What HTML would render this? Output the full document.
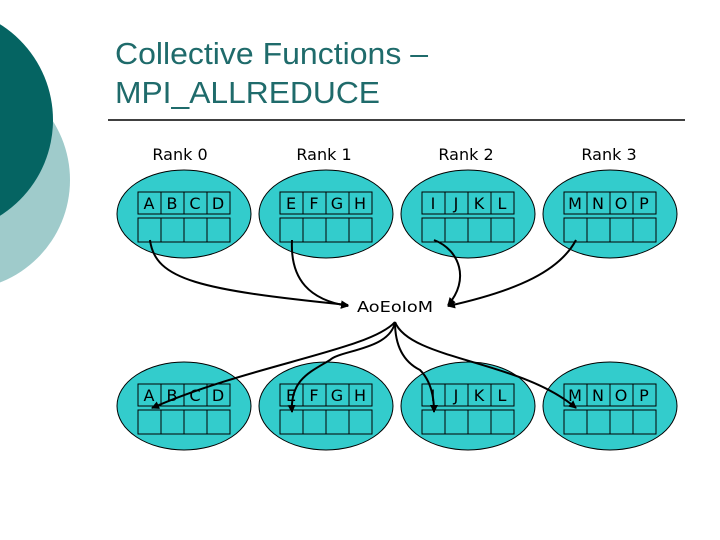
<!DOCTYPE html>
<html><head><style>
body{margin:0;width:720px;height:540px;overflow:hidden;background:#fff;font-family:"Liberation Sans",sans-serif;}
</style></head><body>
<svg width="720" height="540" xmlns="http://www.w3.org/2000/svg" style="position:absolute;left:0;top:0">
<defs><marker id="ah" markerWidth="8" markerHeight="8" refX="7" refY="4" orient="auto" markerUnits="userSpaceOnUse"><path d="M0,0 L8,4 L0,8 Z" fill="#000"/></marker></defs>
<circle cx="-40" cy="180" r="110" fill="#9fcbcb"/>
<circle cx="-60" cy="120" r="113" fill="#056462"/>
<text x="115" y="64" font-size="31" fill="#1f6b6b" textLength="313" lengthAdjust="spacingAndGlyphs">Collective Functions –</text>
<text x="115" y="103" font-size="31" fill="#1f6b6b" textLength="265" lengthAdjust="spacingAndGlyphs">MPI_ALLREDUCE</text>
<line x1="108" y1="120" x2="685" y2="120" stroke="#000" stroke-width="1.5"/>
<g font-size="16" text-anchor="middle" fill="#000" font-family="DejaVu Sans, sans-serif">
<text x="180" y="160">Rank 0</text><text x="324" y="160">Rank 1</text><text x="466" y="160">Rank 2</text><text x="609" y="160">Rank 3</text>
</g>
<g stroke="#000" stroke-width="1">
<ellipse cx="184" cy="214" rx="67" ry="44" fill="#33cccc"/>
<ellipse cx="326" cy="214" rx="67" ry="44" fill="#33cccc"/>
<ellipse cx="468" cy="214" rx="67" ry="44" fill="#33cccc"/>
<ellipse cx="610" cy="214" rx="67" ry="44" fill="#33cccc"/>
<ellipse cx="184" cy="406" rx="67" ry="44" fill="#33cccc"/>
<ellipse cx="326" cy="406" rx="67" ry="44" fill="#33cccc"/>
<ellipse cx="468" cy="406" rx="67" ry="44" fill="#33cccc"/>
<ellipse cx="610" cy="406" rx="67" ry="44" fill="#33cccc"/>
</g>
<g stroke="#000" fill="none" stroke-width="1">
<path d="M138 192h92v22h-92zM161 192v22M184 192v22M207 192v22M138 218h92v24h-92zM161 218v24M184 218v24M207 218v24"/>
<path d="M280 192h92v22h-92zM303 192v22M326 192v22M349 192v22M280 218h92v24h-92zM303 218v24M326 218v24M349 218v24"/>
<path d="M422 192h92v22h-92zM445 192v22M468 192v22M491 192v22M422 218h92v24h-92zM445 218v24M468 218v24M491 218v24"/>
<path d="M564 192h92v22h-92zM587 192v22M610 192v22M633 192v22M564 218h92v24h-92zM587 218v24M610 218v24M633 218v24"/>
<path d="M138 384h92v22h-92zM161 384v22M184 384v22M207 384v22M138 410h92v24h-92zM161 410v24M184 410v24M207 410v24"/>
<path d="M280 384h92v22h-92zM303 384v22M326 384v22M349 384v22M280 410h92v24h-92zM303 410v24M326 410v24M349 410v24"/>
<path d="M422 384h92v22h-92zM445 384v22M468 384v22M491 384v22M422 410h92v24h-92zM445 410v24M468 410v24M491 410v24"/>
<path d="M564 384h92v22h-92zM587 384v22M610 384v22M633 384v22M564 410h92v24h-92zM587 410v24M610 410v24M633 410v24"/>
</g>
<g font-size="16" text-anchor="middle" fill="#000" font-family="DejaVu Sans, sans-serif">
<text x="149" y="209">A</text><text x="172" y="209">B</text><text x="195" y="209">C</text><text x="218" y="209">D</text>
<text x="291" y="209">E</text><text x="314" y="209">F</text><text x="337" y="209">G</text><text x="360" y="209">H</text>
<text x="433" y="209">I</text><text x="456" y="209">J</text><text x="479" y="209">K</text><text x="502" y="209">L</text>
<text x="575" y="209">M</text><text x="598" y="209">N</text><text x="621" y="209">O</text><text x="644" y="209">P</text>
<text x="149" y="401">A</text><text x="172" y="401">B</text><text x="195" y="401">C</text><text x="218" y="401">D</text>
<text x="291" y="401">E</text><text x="314" y="401">F</text><text x="337" y="401">G</text><text x="360" y="401">H</text>
<text x="433" y="401">I</text><text x="456" y="401">J</text><text x="479" y="401">K</text><text x="502" y="401">L</text>
<text x="575" y="401">M</text><text x="598" y="401">N</text><text x="621" y="401">O</text><text x="644" y="401">P</text>
<text x="395" y="312" font-size="15" textLength="76" lengthAdjust="spacingAndGlyphs">AoEoIoM</text>
</g>
<g stroke="#000" stroke-width="2" fill="none" marker-end="url(#ah)">
<path d="M150 240 C155 280 200 290 348 305"/>
<path d="M292 240 C290 280 310 300 348 306"/>
<path d="M434 240 C460 250 470 280 448 305"/>
<path d="M576 240 C560 270 520 290 448 306"/>
<path d="M395 322 C390 350 340 350 330 360 C310 372 290 380 292 412"/>
<path d="M395 322 C395 340 400 360 420 370 C430 380 434 395 434 412"/>
<path d="M395 322 C370 350 250 365 152 408"/>
<path d="M395 322 C410 360 520 360 576 408"/>
</g>
</svg>
</body></html>
